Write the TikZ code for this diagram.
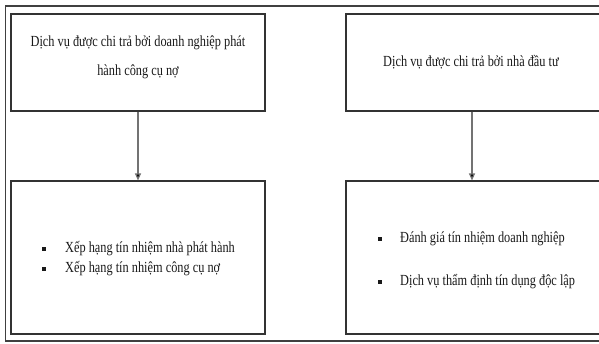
\documentclass[tikz,border=0pt]{standalone}
\usepackage{fontspec}
\setmainfont{Liberation Serif}[FakeStretch=0.8]
\usetikzlibrary{arrows.meta}
\begin{document}
\begin{tikzpicture}[x=1pt,y=1pt,
  box/.style={draw=black!80,line width=1.1pt},
  lbl/.style={font=\fontsize{15.4}{29}\selectfont,inner sep=0pt,text=black!90},
  item/.style={font=\fontsize{15.4}{20}\selectfont,inner sep=0pt,anchor=west,text=black!90},
  bul/.style={fill=black!90,minimum size=3.5pt,inner sep=0pt},
  conn/.style={draw=black!55,line width=1.2pt,-{Triangle[width=6pt,length=7pt,fill=black]}}]
\useasboundingbox (0,0) rectangle (599,344);
\clip (0,0) rectangle (599,344);
\fill[white] (0,0) rectangle (599,344);
% outer frame
\draw[black!75,line width=1.4pt] (610,338) -- (5.5,338) -- (5.5,3) -- (610,3);
% boxes
\node[box,minimum width=254pt,minimum height=97pt,inner sep=0pt] (b1) at (138,281.5) {};
\node[box,minimum width=254pt,minimum height=97pt,inner sep=0pt] (b2) at (473,281.5) {};
\node[box,minimum width=254pt,minimum height=153pt,inner sep=0pt] (b3) at (138,86.5) {};
\node[box,minimum width=254pt,minimum height=153pt,inner sep=0pt] (b4) at (473,86.5) {};
% texts
\node[lbl,align=center] (t1) at (138,286.5) {Dịch vụ được chi trả bởi doanh nghiệp phát\\hành công cụ nợ};
\node[lbl] (t2) at (471,282) {Dịch vụ được chi trả bởi nhà đầu tư};
\node[bul] (p1) at (44,95) {};
\node[item] (i1) at (65,95) {Xếp hạng tín nhiệm nhà phát hành};
\node[bul] (p2) at (44,75) {};
\node[item] (i2) at (65,75) {Xếp hạng tín nhiệm công cụ nợ};
\node[bul] (p3) at (380,105) {};
\node[item] (i3) at (400,105) {Đánh giá tín nhiệm doanh nghiệp};
\node[bul] (p4) at (380,62) {};
\node[item] (i4) at (400,62) {Dịch vụ thẩm định tín dụng độc lập};
% connectors
\draw[conn] (b1.south -| 138,0) -- (b3.north -| 138,0);
\draw[conn] (b2.south -| 472,0) -- (b4.north -| 472,0);
\end{tikzpicture}
\end{document}
